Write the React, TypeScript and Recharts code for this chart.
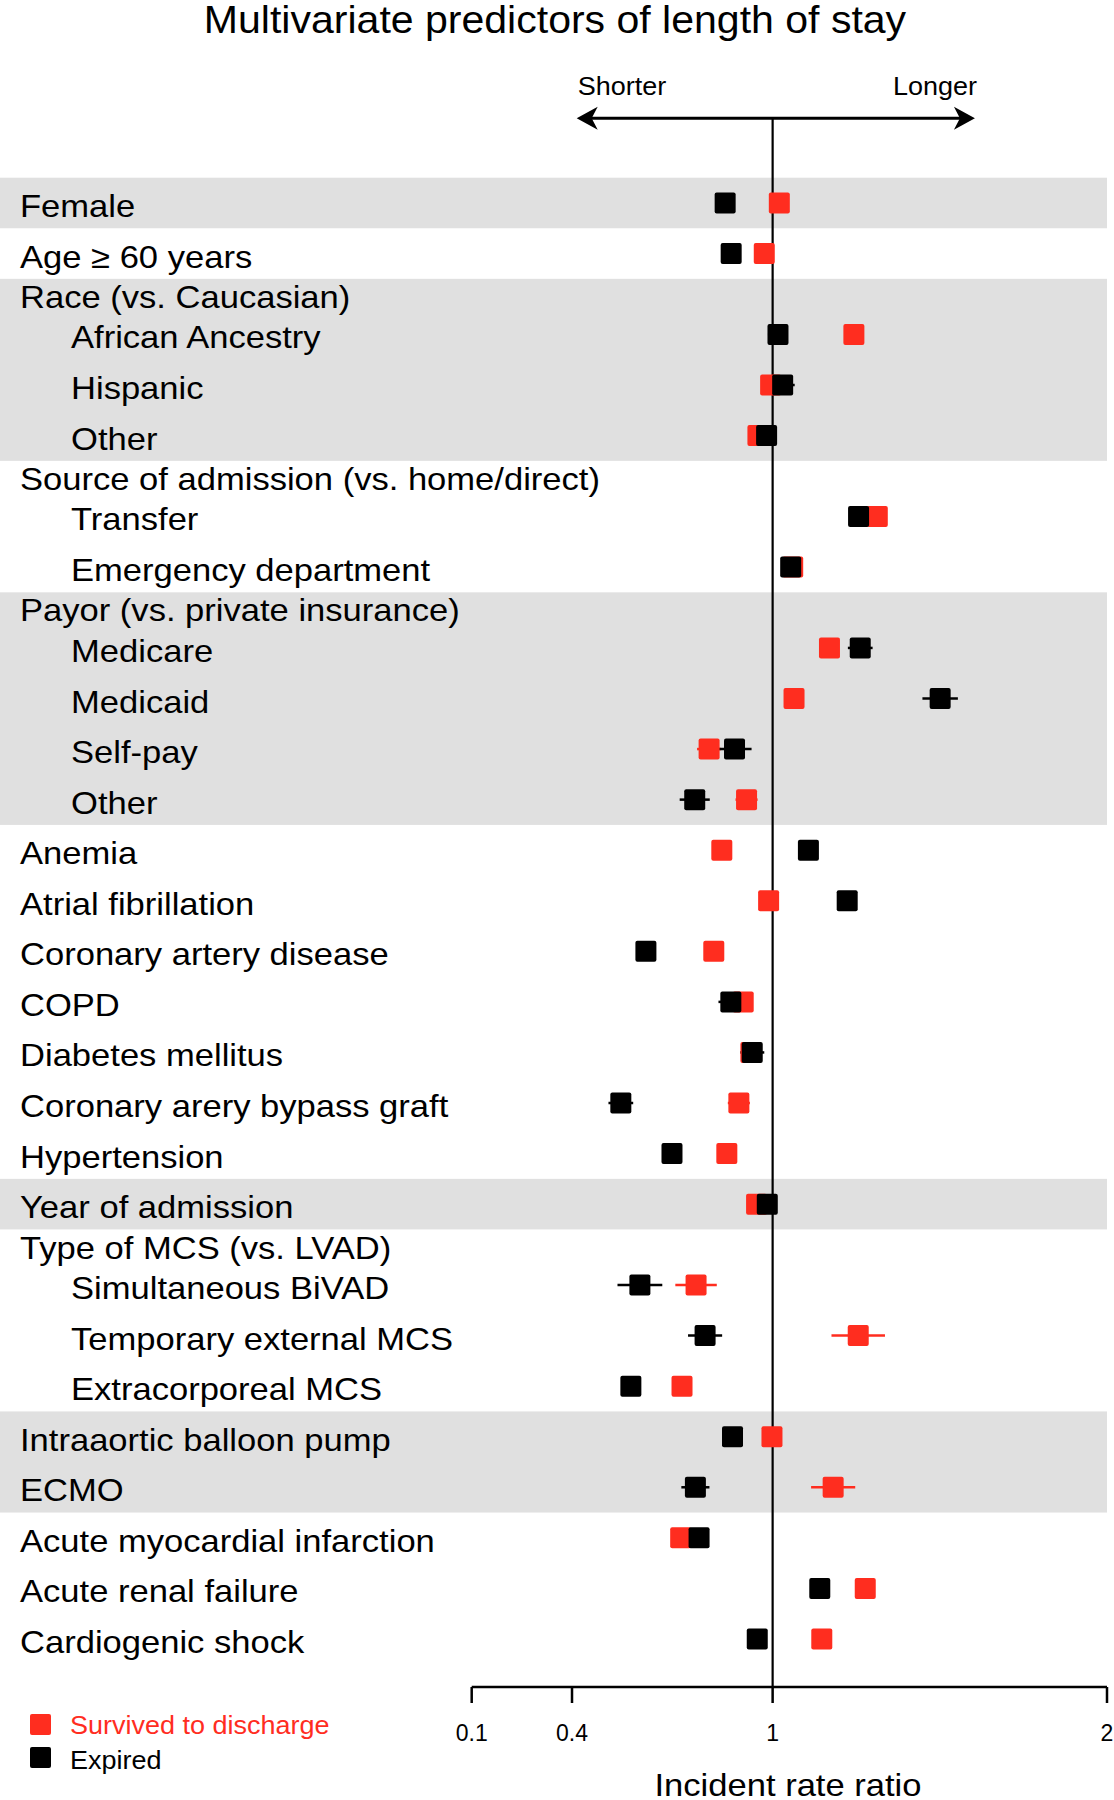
import React from "react"
import {
  ScatterChart, Scatter, XAxis, YAxis, ErrorBar, ReferenceArea, ReferenceLine,
} from "recharts"

const FONT = "'Liberation Sans', Arial, Helvetica, sans-serif"
const RED = "#ff2d1f"
const BAND = "#e0e0e0"
const STRETCH = 1.08

// one entry per row, top to bottom
const LABELS = [
  "Female", "Age \u2265 60 years",
  "Race (vs. Caucasian)", "African Ancestry", "Hispanic", "Other",
  "Source of admission (vs. home/direct)", "Transfer", "Emergency department",
  "Payor (vs. private insurance)", "Medicare", "Medicaid", "Self-pay", "Other",
  "Anemia", "Atrial fibrillation", "Coronary artery disease", "COPD",
  "Diabetes mellitus", "Coronary arery bypass graft", "Hypertension",
  "Year of admission",
  "Type of MCS (vs. LVAD)", "Simultaneous BiVAD", "Temporary external MCS", "Extracorporeal MCS",
  "Intraaortic balloon pump", "ECMO",
  "Acute myocardial infarction", "Acute renal failure", "Cardiogenic shock",
]

// top = plain row, head = group heading, sub = row inside a group
const ROW_KIND = [
  "top", "top",
  "head", "sub", "sub", "sub",
  "head", "sub", "sub",
  "head", "sub", "sub", "sub", "sub",
  "top", "top", "top", "top", "top", "top", "top",
  "top",
  "head", "sub", "sub", "sub",
  "top", "top",
  "top", "top", "top",
]

const SHADED = [
  1, 0,
  1, 1, 1, 1,
  0, 0, 0,
  1, 1, 1, 1, 1,
  0, 0, 0, 0, 0, 0, 0,
  1,
  0, 0, 0, 0,
  1, 1,
  0, 0, 0,
]

// incident rate ratios, survived to discharge
const SURVIVED = [
  1.02, 0.975,
  null, 1.243, 0.994, 0.956,
  null, 1.313, 1.06,
  null, 1.17, 1.064, 0.81, 0.922,
  0.848, 0.988, 0.824, 0.912, 0.935, 0.899, 0.863,
  0.952,
  null, 0.771, 1.256, 0.729,
  0.998, 1.181,
  0.725, 1.277, 1.147,
]
// half width of the 95% CI (0 where hidden behind the square)
const SURVIVED_CI = [
  0, 0,
  null, 0, 0, 0,
  null, 0, 0,
  null, 0, 0, 0.036, 0.033,
  0, 0, 0, 0, 0, 0.033, 0,
  0,
  null, 0.062, 0.08, 0,
  0, 0.066,
  0, 0, 0,
]

// incident rate ratios, expired
const EXPIRED = [
  0.858, 0.876,
  null, 1.016, 1.03, 0.982,
  null, 1.257, 1.054,
  null, 1.262, 1.501, 0.886, 0.767,
  1.107, 1.223, 0.621, 0.875, 0.939, 0.546, 0.699,
  0.984,
  null, 0.603, 0.798, 0.576,
  0.88, 0.769,
  0.78, 1.141, 0.954,
]
const EXPIRED_CI = [
  0, 0,
  null, 0.03, 0.036, 0.03,
  null, 0, 0,
  null, 0.037, 0.053, 0.051, 0.045,
  0, 0, 0, 0.037, 0.036, 0.037, 0,
  0,
  null, 0.067, 0.051, 0,
  0, 0.042,
  0, 0, 0,
]

const X_TICKS = [0.1, 0.4, 1, 2]
const ARROW_X = [0.414, 1.605]

// row slots: headings are shorter than normal rows
const HEAD_SLOT = 0.6
const tops: number[] = []
const centers: number[] = []
let acc = 0
ROW_KIND.forEach(k => {
  const h = k === "head" ? HEAD_SLOT : 1
  tops.push(acc)
  centers.push(acc + h / 2)
  acc += h
})
const Y_DOMAIN = [-1.175, 29.85]

// merge shaded rows into bands
const bands: { y1: number; y2: number }[] = []
SHADED.forEach((s, i) => {
  if (!s) return
  const bottom = tops[i] + (ROW_KIND[i] === "head" ? HEAD_SLOT : 1)
  const last = bands[bands.length - 1]
  if (last && SHADED[i - 1]) last.y2 = bottom
  else bands.push({ y1: tops[i], y2: bottom })
})

const toPoints = (vals: (number | null)[], ci: (number | null)[]) =>
  vals
    .map((v, i) => (v == null ? null : { x: v, y: centers[i], err: ci[i] ?? 0 }))
    .filter(Boolean) as { x: number; y: number; err: number }[]

const survivedData = toPoints(SURVIVED, SURVIVED_CI)
const expiredData = toPoints(EXPIRED, EXPIRED_CI)

const square = (color: string) => (p: any) => (
  <rect x={p.cx - 10.5} y={p.cy - 10.5} width={21} height={21} rx={2} fill={color} />
)

const RowTick = (p: any) => {
  const i = centers.findIndex(c => Math.abs(c - p.payload.value) < 1e-6)
  if (i < 0) return null
  const left = ROW_KIND[i] === "sub" ? 71 : 20
  return (
    <text
      transform={`translate(${left},${p.y + 14}) scale(${STRETCH},1)`}
      fontSize={32} fontFamily={FONT} fill="#000"
    >
      {LABELS[i]}
    </text>
  )
}

const BandShape = (p: any) => (
  <rect x={0} y={p.y} width={p.x + p.width} height={p.height} fill={BAND} />
)

const ArrowShape = (p: any) => {
  const { x1, y1, x2 } = p
  const head = 21
  const half = 11.5
  const notch = 6
  return (
    <g>
      <line x1={x1 + 8} y1={y1} x2={x2 - 8} y2={y1} stroke="#000" strokeWidth={3} />
      <path d={`M${x1},${y1} L${x1 + head},${y1 - half} L${x1 + head - notch},${y1} L${x1 + head},${y1 + half} Z`} fill="#000" />
      <path d={`M${x2},${y1} L${x2 - head},${y1 - half} L${x2 - head + notch},${y1} L${x2 - head},${y1 + half} Z`} fill="#000" />
      <text transform={`translate(${x1 + 1},${y1 - 23}) scale(${STRETCH},1)`} fontSize={25} fontFamily={FONT} fill="#000">Shorter</text>
      <text transform={`translate(${x2 + 2},${y1 - 23}) scale(${STRETCH},1)`} textAnchor="end" fontSize={25} fontFamily={FONT} fill="#000">Longer</text>
    </g>
  )
}

export default function App() {
  return (
    <div style={{ position: "absolute", left: 0, top: 0, width: 1114, height: 1800, background: "#fff", fontFamily: FONT }}>
      <ScatterChart width={1114} height={1800} margin={{ top: 118.3, right: 7, bottom: 53, left: 0 }}>
        {bands.map((b, i) => (
          <ReferenceArea key={`band-${i}`} y1={b.y1} y2={b.y2} shape={BandShape} ifOverflow="visible" />
        ))}
        <XAxis
          type="number" dataKey="x" domain={[0.1, 2]} ticks={X_TICKS} allowDataOverflow
          interval={0} height={60} tickSize={16} tickMargin={22}
          tick={{ fontSize: 23, fill: "#000", fontFamily: FONT }}
          axisLine={{ stroke: "#000", strokeWidth: 2.5 }}
          tickLine={{ stroke: "#000", strokeWidth: 2.5 }}
        />
        <YAxis
          type="number" dataKey="y" domain={Y_DOMAIN} reversed allowDataOverflow
          ticks={centers} interval={0} width={471.7}
          axisLine={false} tickLine={false} tick={RowTick}
        />
        <Scatter data={survivedData} fill={RED} shape={square(RED)} isAnimationActive={false}>
          <ErrorBar dataKey="err" direction="x" width={0} stroke={RED} strokeWidth={2.5} isAnimationActive={false} />
        </Scatter>
        <Scatter data={expiredData} fill="#000" shape={square("#000")} isAnimationActive={false}>
          <ErrorBar dataKey="err" direction="x" width={0} stroke="#000" strokeWidth={2.5} isAnimationActive={false} />
        </Scatter>
        <ReferenceLine x={1} stroke="#000" strokeWidth={2.2} />
        <ReferenceLine
          segment={[{ x: ARROW_X[0], y: Y_DOMAIN[0] }, { x: ARROW_X[1], y: Y_DOMAIN[0] }]}
          ifOverflow="visible" shape={ArrowShape}
        />
      </ScatterChart>
      <svg width={1114} height={1800} style={{ position: "absolute", left: 0, top: 0, pointerEvents: "none" }}>
        <text transform={`translate(555,32.5) scale(${STRETCH},1)`} textAnchor="middle" fontSize={38} fontFamily={FONT} fill="#000">
          Multivariate predictors of length of stay
        </text>
        <rect x={30} y={1714} width={21} height={21} rx={2} fill={RED} />
        <text transform={`translate(70,1734) scale(${STRETCH},1)`} fontSize={25} fontFamily={FONT} fill={RED}>Survived to discharge</text>
        <rect x={30} y={1747} width={21} height={21} rx={2} fill="#000" />
        <text transform={`translate(70,1769) scale(${STRETCH},1)`} fontSize={25} fontFamily={FONT} fill="#000">Expired</text>
        <text transform={`translate(788,1796) scale(${STRETCH},1)`} textAnchor="middle" fontSize={32} fontFamily={FONT} fill="#000">
          Incident rate ratio
        </text>
      </svg>
    </div>
  )
}
